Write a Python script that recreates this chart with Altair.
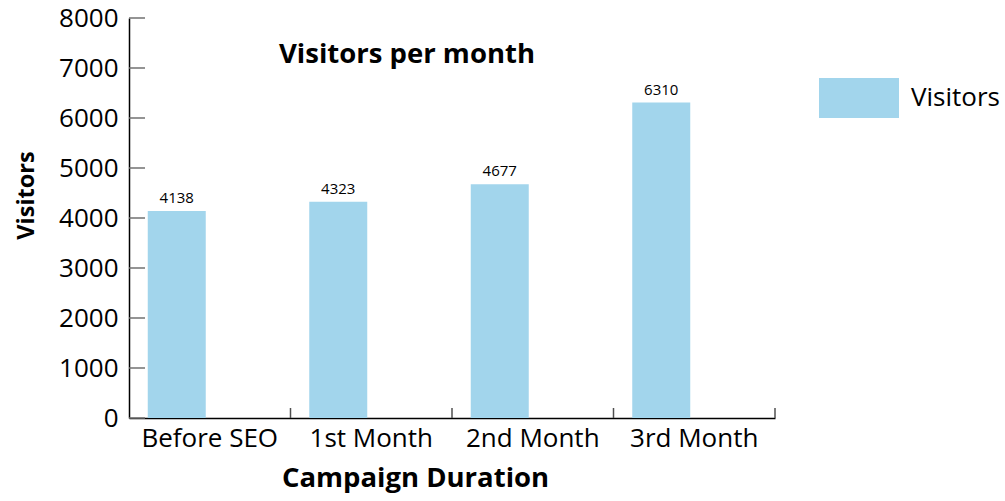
import altair as alt
import pandas as pd

categories = ["Before SEO", "1st Month", "2nd Month", "3rd Month"]
visitors = [4138, 4323, 4677, 6310]
series_name = "Visitors"
y_ticks = [0, 1000, 2000, 3000, 4000, 5000, 6000, 7000, 8000]

df = pd.DataFrame({"cat": categories, "visitors": visitors, "series": [series_name] * len(categories)})
ticks_df = pd.DataFrame({"visitors": y_ticks})

W, H = 646, 400
FONT = "Open Sans"
BAR = "#a2d5ec"

x_scale = alt.Scale(domain=categories, paddingInner=0, paddingOuter=0)
y_scale = alt.Scale(domain=[0, 8000], nice=False)

x_axis = alt.Axis(
    title="Campaign Duration", labelAngle=0, ticks=False, domainColor="black", domainWidth=1.5,
    labelFontSize=26, labelColor="black", labelFont=FONT, labelPadding=7,
    titleFontSize=27.5, titleFontWeight="bold", titleFont=FONT, titleColor="black",
    titleX=286, titleY=60, titleBaseline="middle", titleAlign="center",
)
y_axis = alt.Axis(
    title="Visitors", values=y_ticks, format="d", ticks=False, grid=False, domainColor="black", domainWidth=1.5,
    labelFontSize=26, labelColor="black", labelFont=FONT, labelPadding=11,
    titleFontSize=23.5, titleFontWeight="bold", titleFont=FONT, titleColor="black",
    titleX=-103, titleY=177, titleBaseline="middle", titleAlign="center",
)

base = alt.Chart(df)

bars = base.mark_bar(width=58, xOffset=-33).encode(
    x=alt.X("cat:N", sort=categories, scale=x_scale, axis=x_axis),
    y=alt.Y("visitors:Q", scale=y_scale, axis=y_axis),
    color=alt.Color(
        "series:N",
        scale=alt.Scale(domain=[series_name], range=[BAR]),
        legend=alt.Legend(
            title=None, orient="none", legendX=690, legendY=40, padding=0,
            symbolType="M-1,-0.5L1,-0.5L1,0.5L-1,0.5Z", symbolSize=6400, symbolStrokeWidth=0,
            symbolOpacity=1,
            labelFontSize=26, labelFont=FONT, labelColor="black", labelOffset=12,
        ),
    ),
)

labels = base.mark_text(xOffset=-33, dy=-8, baseline="alphabetic", fontSize=15, font=FONT, color="black").encode(
    x=alt.X("cat:N", sort=categories, scale=x_scale),
    y=alt.Y("visitors:Q", scale=y_scale),
    text=alt.Text("visitors:Q", format="d"),
)

y_tick_rules = alt.Chart(ticks_df).mark_rule(color="#707070", strokeWidth=1.5).encode(
    y=alt.Y("visitors:Q", scale=y_scale),
    x=alt.value(0),
    x2=alt.value(16),
)

x_tick_rules = base.mark_rule(color="#505050", strokeWidth=1.5).encode(
    x=alt.X("cat:N", sort=categories, scale=x_scale, bandPosition=1),
    y=alt.value(H - 10),
    y2=alt.value(H),
)

chart = alt.layer(bars, labels, y_tick_rules, x_tick_rules).properties(
    width=W,
    height=H,
    title=alt.Title(
        "Visitors per month", fontSize=27.5, fontWeight="bold", font=FONT, color="black",
        anchor="middle", frame="group", dx=-45, dy=77, offset=0, baseline="middle",
    ),
    autosize=alt.AutoSizeParams(type="none"),
    padding={"left": 129, "top": 18, "right": 230, "bottom": 83},
).configure(background="white").configure_view(stroke=None)

chart.save("out.html", embed_options={"renderer": "svg", "actions": False})
